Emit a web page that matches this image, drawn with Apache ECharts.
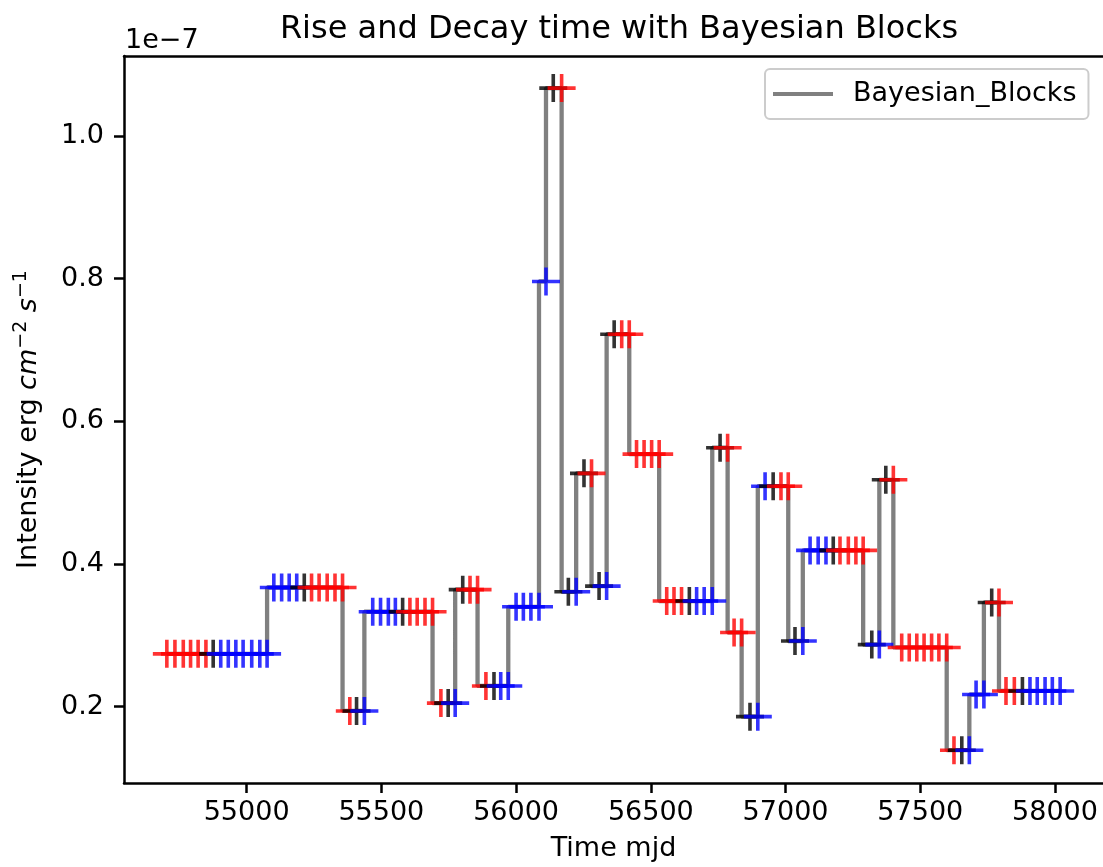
<!DOCTYPE html>
<html>
<head>
<meta charset="utf-8">
<script src="https://cdn.jsdelivr.net/npm/echarts@6/dist/echarts.min.js"></script>
<style>
html, body { margin: 0; padding: 0; background: #fff; }
#chart { width: 1103px; height: 867px; }
</style>
</head>
<body>
<div id="chart"></div>
<script type="text/javascript">
// time of every light-curve point (MJD)
var times = [
    54704, 54734, 54765, 54792, 54820, 54849, 54876, 54904, 54932, 54960, 54987, 55019, 55049, 55076,
    55101, 55130, 55158, 55186, 55214, 55241, 55269, 55299, 55328, 55356,
    55383, 55408, 55437,
    55468, 55497, 55526, 55552, 55579, 55606, 55633, 55662, 55690,
    55721, 55748, 55774,
    55802, 55829, 55857,
    55888, 55918, 55943, 55971,
    56000, 56027, 56055, 56085,
    56111,
    56138, 56169,
    56194, 56223,
    56252, 56280,
    56308, 56336,
    56364, 56392, 56420,
    56447, 56475, 56503, 56531,
    56559, 56586, 56614, 56643, 56670, 56698, 56728,
    56757, 56785,
    56809, 56837,
    56868, 56897,
    56924, 56954, 56983, 57010,
    57035, 57064,
    57091, 57121, 57150, 57177, 57202, 57233, 57261, 57288,
    57320, 57348,
    57372, 57400,
    57431, 57459, 57487, 57514, 57542, 57569, 57598,
    57625, 57654, 57682,
    57707, 57736,
    57765, 57792,
    57818, 57849, 57879, 57907, 57934, 57963, 57990, 58019
];

// Bayesian block levels, in units of 1e-7 erg cm^-2 s^-1
var blockLevels = [0.274, 0.367, 0.194, 0.333, 0.205, 0.364, 0.229, 0.340, 0.796, 1.067,
    0.361, 0.527, 0.369, 0.722, 0.554, 0.348, 0.563, 0.304, 0.186, 0.509,
    0.292, 0.419, 0.287, 0.518, 0.283, 0.139, 0.217, 0.346, 0.222];

// class of each point in each block: R = decay, K = peak/flat, B = rise
var blockClasses = ['RRRRRRKBBBBBBB', 'BBBBKRRRRR', 'RKB', 'BBBBKRRRR', 'RKB', 'KRR', 'RKBB', 'BBBB', 'B', 'KR',
    'KB', 'KR', 'KB', 'KRR', 'RRRR', 'RRRKBBB', 'KR', 'RR', 'KB', 'BKRR',
    'KB', 'BBBKRRRR', 'KB', 'KR', 'RRRRRRR', 'RKB', 'BB', 'KR', 'RRKBBBBB'];

var xTicks = [55000, 55500, 56000, 56500, 57000, 57500, 58000];
var yTicks = [0.2, 0.4, 0.6, 0.8, 1.0];

var classColor = { R: '#ff0000', K: '#000000', B: '#0000ff' };
var font = 'DejaVu Sans';

var stepData = [];
var pointData = [];
var k = 0;
for (var b = 0; b < blockLevels.length; b++) {
    var cls = blockClasses[b];
    for (var j = 0; j < cls.length; j++) {
        stepData.push([times[k], blockLevels[b]]);
        pointData.push({ value: [times[k], blockLevels[b]], itemStyle: { color: classColor[cls[j]] } });
        k++;
    }
}

// '+' marker, 28px wide and tall
var plus = 'path://M0,12.2L28,12.2L28,15.8L0,15.8Z M12.2,0L15.8,0L15.8,28L12.2,28Z';

var chart = echarts.init(document.getElementById('chart'));
chart.setOption({
    animation: false,
    backgroundColor: '#fff',
    title: {
        text: 'Rise and Decay time with Bayesian Blocks',
        left: 614,
        top: 9,
        textAlign: 'center',
        textStyle: { fontFamily: font, fontSize: 32, fontWeight: 'normal', color: '#000' }
    },
    graphic: [{
        type: 'text',
        left: 125,
        top: 27,
        style: { text: '1e\u22127', font: '27px "DejaVu Sans"', fill: '#000' }
    }],
    legend: {
        data: ['Bayesian_Blocks'],
        left: 765,
        top: 69,
        orient: 'vertical',
        icon: 'rect',
        itemWidth: 60,
        itemHeight: 4,
        padding: [10, 12, 10, 8],
        borderColor: '#cccccc',
        borderWidth: 2,
        borderRadius: 5,
        textStyle: { fontFamily: font, fontSize: 27, color: '#000', padding: [0, 0, 0, 15], lineHeight: 30 }
    },
    // right spine falls just outside the picture, so only left, bottom and top are drawn
    grid: {
        left: 124,
        top: 56,
        bottom: 81,
        right: 0
    },
    xAxis: [
        {
            type: 'value',
            min: 54545,
            max: 58178,
            name: 'Time mjd',
            nameLocation: 'middle',
            nameGap: 52,
            nameTextStyle: { fontFamily: font, fontSize: 27, color: '#000' },
            axisLine: { show: true, lineStyle: { color: '#000', width: 2.5 } },
            axisTick: { show: true, length: 10, customValues: xTicks, lineStyle: { color: '#000', width: 2.5 } },
            axisLabel: {
                customValues: xTicks,
                margin: 16,
                fontFamily: font, fontSize: 27, color: '#000',
                formatter: function (v) { return String(v); }
            },
            splitLine: { show: false }
        },
        {
            type: 'value',
            position: 'top',
            min: 54545,
            max: 58178,
            axisLine: { show: true, onZero: false, lineStyle: { color: '#000', width: 2.5 } },
            axisTick: { show: false },
            axisLabel: { show: false },
            splitLine: { show: false }
        }
    ],
    yAxis: {
        type: 'value',
        min: 0.093,
        max: 1.112,
        name: '{n|Intensity erg }{i|cm}{s|\u22122}{n| }{i|s}{s|\u22121}',
        nameLocation: 'middle',
        nameGap: 78,
        nameTextStyle: {
            fontFamily: font, fontSize: 27, color: '#000',
            rich: {
                n: { fontFamily: font, fontSize: 27, lineHeight: 34 },
                i: { fontFamily: font, fontSize: 27, fontStyle: 'italic', lineHeight: 34 },
                s: { fontFamily: font, fontSize: 19, lineHeight: 18, verticalAlign: 'top' }
            }
        },
        axisLine: { show: true, lineStyle: { color: '#000', width: 2.5 } },
        axisTick: { show: true, length: 10, customValues: yTicks, lineStyle: { color: '#000', width: 2.5 } },
        axisLabel: {
            customValues: yTicks,
            margin: 20,
            fontFamily: font, fontSize: 27, color: '#000',
            formatter: function (v) { return v.toFixed(1); }
        },
        splitLine: { show: false }
    },
    series: [
        {
            name: 'Bayesian_Blocks',
            type: 'line',
            step: 'start',
            data: stepData,
            showSymbol: false,
            symbol: 'none',
            z: 2,
            color: '#808080',
            lineStyle: { color: '#808080', width: 4.3 }
        },
        {
            name: 'points',
            type: 'scatter',
            data: pointData,
            symbol: plus,
            symbolSize: 28,
            z: 3
        }
    ]
});
</script>
</body>
</html>
